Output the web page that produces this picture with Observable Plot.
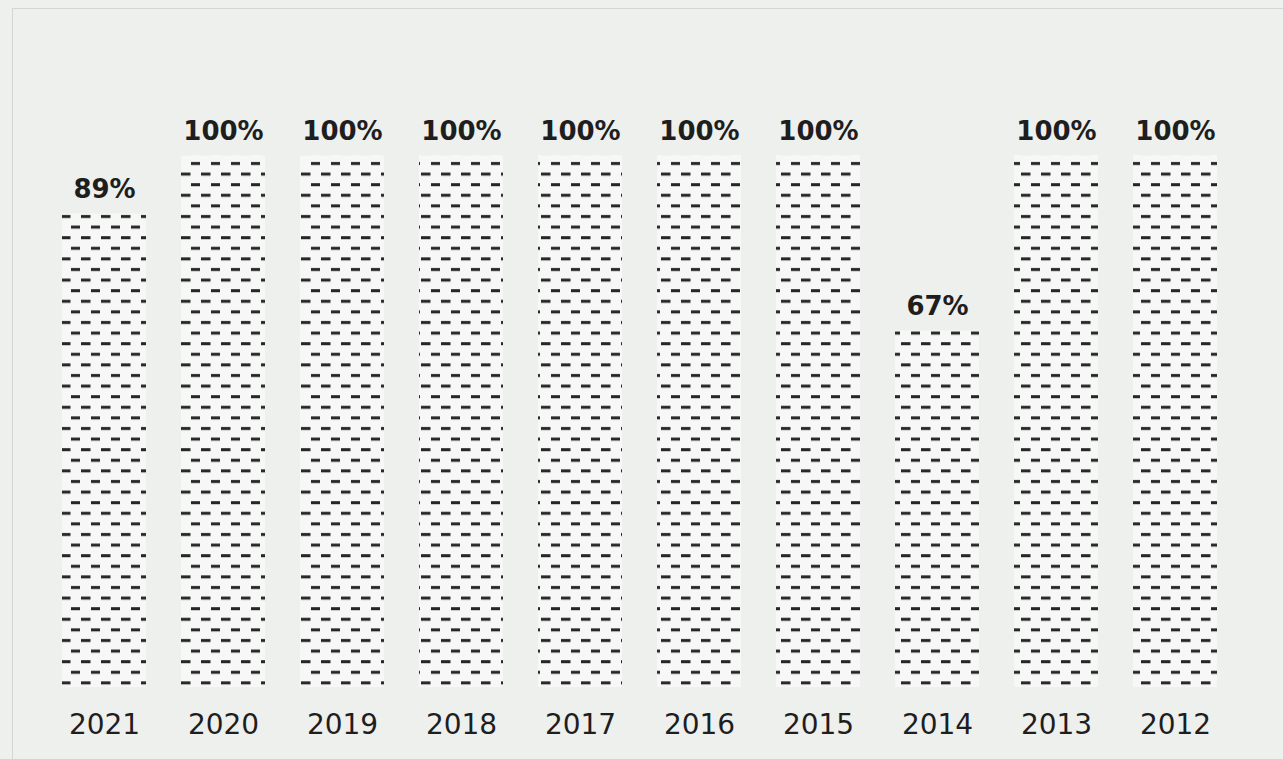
<!DOCTYPE html>
<html><head><meta charset="utf-8">
<script src="https://cdn.jsdelivr.net/npm/d3@7"></script>
<script src="https://cdn.jsdelivr.net/npm/@observablehq/plot@0.6"></script>
<style>
html,body{margin:0;padding:0;background:#eef0ee;overflow:hidden;}
#wrap{position:relative;width:1283px;height:759px;}
#border{position:absolute;left:12px;top:8px;right:0;bottom:0;border-top:1px solid #d3d6d4;border-left:1px solid #d3d6d4;pointer-events:none;}
</style>
</head><body><div id="wrap"><div id="chart"></div><div id="border"></div></div>
<script>
const years = ["2021","2020","2019","2018","2017","2016","2015","2014","2013","2012"];
const values = [89,100,100,100,100,100,100,67,100,100];
const labels = ["89%","100%","100%","100%","100%","100%","100%","67%","100%","100%"];
const data = years.map((y,i)=>({year:y,value:values[i],label:labels[i]}));

const chart = Plot.plot({
  width:1283, height:759,
  marginTop:155, marginBottom:72, marginLeft:43, marginRight:47,
  style:{background:"#eef0ee", fontFamily:"DejaVu Sans", color:"#1e1e1e"},
  x:{domain:years, paddingInner:0.295, paddingOuter:0.15, label:null},
  y:{domain:[0,100], axis:null},
  marks:[
    Plot.barY(data,{x:"year", y:"value", fill:"url(#dashes)"}),
    Plot.text(data,{x:"year", y:"value", text:"label", dy:-24, fontSize:26, fontWeight:"bold", fill:"#1e1e1e"}),
    Plot.axisX({tickSize:0, tickPadding:27, fontSize:28, fill:"#1e1e1e", label:null})
  ]
});
d3.select(chart).insert("defs",":first-child").html(`
  <pattern id="dashes" patternUnits="userSpaceOnUse" width="20" height="21.2">
    <rect width="20" height="21.2" fill="#f6f7f6"/>
    <rect x="1" y="3" width="9.5" height="3" fill="#262626"/>
    <rect x="11" y="13.6" width="9.5" height="3" fill="#262626"/>
  </pattern>`);
document.getElementById("chart").appendChild(chart);
</script>
</body></html>
